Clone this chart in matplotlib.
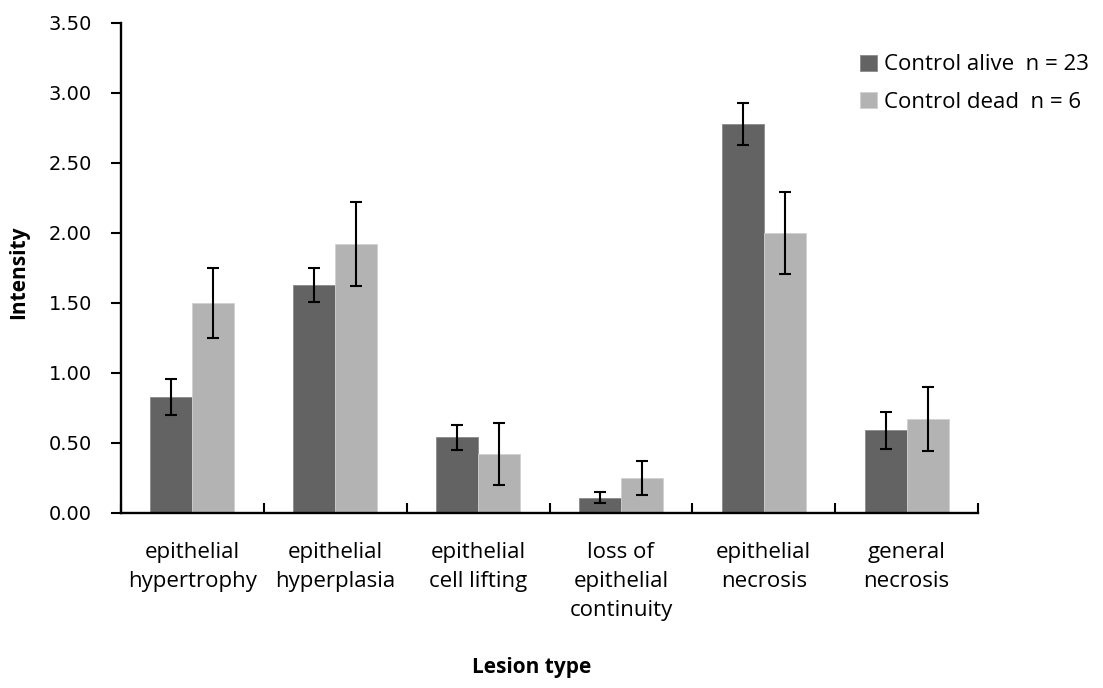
import numpy as np
import matplotlib
matplotlib.use("Agg")
import matplotlib.pyplot as plt

# lesion categories and mean intensity (+/- error) per group
categories = ["epithelial\nhypertrophy", "epithelial\nhyperplasia", "epithelial\ncell lifting",
              "loss of\nepithelial\ncontinuity", "epithelial\nnecrosis", "general\nnecrosis"]
alive_mean = [0.83, 1.63, 0.54, 0.11, 2.78, 0.59]
alive_err = [0.13, 0.12, 0.09, 0.04, 0.15, 0.13]
dead_mean = [1.50, 1.92, 0.42, 0.25, 2.00, 0.67]
dead_err = [0.25, 0.30, 0.22, 0.12, 0.29, 0.23]
labels = ["Control alive  n = 23", "Control dead  n = 6"]
yticks = np.arange(0, 3.51, 0.5)

txt_font = ["Open Sans", "DejaVu Sans"]

fig = plt.figure(figsize=(11.03, 6.88), dpi=100)
ax = fig.add_axes([0.1097, 0.2544, 0.7770, 0.7122])

x = np.arange(len(categories))
w = 0.294
ebar = dict(ecolor="black", elinewidth=1.5, capsize=4.5, capthick=1.5)
ax.bar(x - w/2, alive_mean, w, yerr=alive_err, color="#636363", edgecolor="#8a8a8a",
       linewidth=0.6, label=labels[0], error_kw=ebar)
ax.bar(x + w/2, dead_mean, w, yerr=dead_err, color="#b3b3b3", edgecolor="#d0d0d0",
       linewidth=0.6, label=labels[1], error_kw=ebar)

ax.set_xlim(-0.5, len(categories) - 0.5)
ax.set_ylim(0, 3.5)
ax.set_yticks(yticks)
ax.set_yticklabels([f"{v:.2f}" for v in yticks], fontsize=14, family="DejaVu Sans")
ax.tick_params(axis="y", direction="out", length=7, width=1.5, pad=14)

# category boundaries as major ticks, labels on minor ticks
ax.set_xticks(np.arange(len(categories) + 1) - 0.5)
ax.set_xticklabels([])
ax.tick_params(axis="x", which="major", direction="in", length=7, width=1.5)
ax.set_xticks(x, minor=True)
ax.set_xticklabels(categories, minor=True, fontsize=16, family=txt_font, linespacing=1.5)
ax.tick_params(axis="x", which="minor", length=0, pad=21)

for s in ["top", "right"]:
    ax.spines[s].set_visible(False)
for s in ["left", "bottom"]:
    ax.spines[s].set_linewidth(1.7)

fig.text(0.017, 0.605, "Intensity", rotation=90, ha="center", va="center",
         fontsize=15, fontweight="bold", family=txt_font)
fig.text(0.4823, 0.03, "Lesion type", ha="center", va="center",
         fontsize=15, fontweight="bold", family=txt_font)

leg = fig.legend(loc="upper left", bbox_to_anchor=(0.762, 0.95), frameon=False,
                 prop={"family": txt_font, "size": 16}, handlelength=0.75, handleheight=0.75,
                 handletextpad=0.3, labelspacing=0.75)

fig.savefig("out.png", dpi=100)
